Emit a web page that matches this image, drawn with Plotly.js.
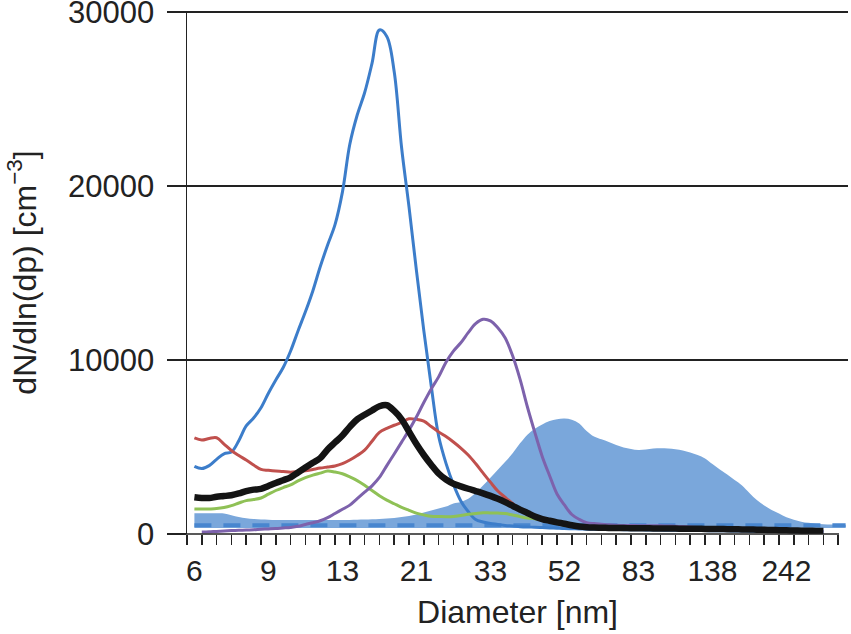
<!DOCTYPE html>
<html>
<head>
<meta charset="utf-8">
<script src="https://cdn.plot.ly/plotly-3.0.1.min.js"></script>
<style>html,body{margin:0;padding:0;background:#fff}</style>
</head>
<body>
<div id="myDiv" style="width:851px;height:634px"></div>
<script>
// size channels, sampled every half channel (channel 0 = 6 nm)
channel = [0, 0.5, 1, 1.5, 2, 2.5, 3, 3.5, 4, 4.5,
    5, 5.5, 6, 6.5, 7, 7.5, 8, 8.5, 9, 9.5,
    10, 10.5, 11, 11.5, 12, 12.5, 13, 13.5, 14, 14.5,
    15, 15.5, 16, 16.5, 17, 17.5, 18, 18.5, 19, 19.5,
    20, 20.5, 21, 21.5, 22, 22.5, 23, 23.5, 24, 24.5,
    25, 25.5, 26, 26.5, 27, 27.5, 28, 28.5, 29, 29.5,
    30, 30.5, 31, 31.5, 32, 32.5, 33, 33.5, 34, 34.5,
    35, 35.5, 36, 36.5, 37, 37.5, 38, 38.5, 39, 39.5,
    40, 40.5, 41, 41.5, 42, 42.5, 43, 43.5, 44];

tickPos = [0, 5, 10, 15, 20, 25, 30, 35, 40];
tickText = ['6', '9', '13', '21', '33', '52', '83', '138', '242'];

yTicks = [0, 10000, 20000, 30000];
yTickText = ['0', '10000', '20000', '30000'];

// dN/dln(dp) in cm^-3
blue = [3890, 3760, 3930, 4290, 4610, 4710, 5360, 6210, 6670, 7260,
    8090, 8850, 9570, 10520, 11670, 12770, 13970, 15360, 16610, 17780,
    19650, 22400, 24080, 25360, 27050, 28970, 28600, 26570, 22200, 18800,
    15150, 11690, 8520, 5630, 4060, 2850, 1900, 1290, 830, 690,
    600, 550, 490, 460, 420, 400, 390, 370, 350, 330,
    310, 300, 290, 280, 270, 265, 260, 255, 250, 245,
    240, 235, 230, 225, 220, 215, 210, 205, 200, 195,
    190, 185, 180, 175, 170, 165, 160, 155, 150, 145,
    140, 135, 130, 125, 120, 115];

red = [5520, 5400, 5490, 5530, 5170, 4800, 4510, 4250, 3970, 3710,
    3660, 3620, 3590, 3550, 3590, 3630, 3710, 3790, 3850, 3910,
    4040, 4250, 4510, 4820, 5330, 5840, 6070, 6250, 6410, 6620,
    6590, 6490, 6180, 5870, 5600, 5290, 4940, 4540, 4050, 3510,
    2980, 2470, 2100, 1750, 1450, 1270, 1050, 870, 760, 640,
    560, 480, 430, 390, 375, 365, 355, 350, 345, 340];

green = [1440, 1430, 1440, 1460, 1520, 1630, 1780, 1920, 1980, 2070,
    2290, 2500, 2670, 2820, 3050, 3240, 3380, 3500, 3620, 3560,
    3460, 3280, 3070, 2800, 2500, 2200, 1950, 1740, 1530, 1360,
    1200, 1100, 1020, 1005, 990, 1000, 1060, 1130, 1180, 1220,
    1210, 1200, 1180, 1090, 1000, 920, 880, 800, 700, 600,
    520, 460, 410, 380, 365, 355, 345, 340, 335, 330];

purple = [null, 110, 125, 150, 170, 195, 210, 230, 245, 270,
    290, 310, 345, 380, 440, 550, 650, 760, 940, 1180,
    1420, 1660, 2030, 2400, 2770, 3250, 3930, 4600, 5280, 5970,
    6720, 7560, 8340, 9030, 9870, 10510, 10990, 11570, 12090, 12340,
    12250, 11850, 11260, 10240, 8900, 7300, 5840, 4460, 3350, 2300,
    1670, 1120, 840, 655, 600, 565, 530, 505, 490, 485,
    480, 478, 475, 470, 460, 445, 425, 400, 370, 340,
    305, 285, 270, 255, 245, 235, 225, 215, 205, 195,
    185, 180, 175, 170, 165, 160];

mean = [2110, 2070, 2070, 2140, 2180, 2230, 2330, 2470, 2550, 2590,
    2760, 2930, 3090, 3260, 3540, 3820, 4090, 4360, 4860, 5260,
    5660, 6160, 6590, 6850, 7100, 7340, 7400, 7070, 6590, 5880,
    5170, 4540, 3980, 3480, 3130, 2890, 2740, 2600, 2470, 2340,
    2190, 2020, 1830, 1620, 1400, 1210, 1010, 860, 760, 670,
    590, 500, 430, 390, 370, 360, 350, 345, 340, 335,
    330, 326, 322, 318, 314, 310, 306, 302, 298, 294,
    290, 284, 278, 272, 264, 256, 248, 240, 230, 220,
    210, 200, 192, 184, 177, 170];

// shaded range: upper edge, and floor at both ends
rangeHigh = [1190, 1190, 1190, 1190, 1180, 1080, 980, 910, 860, 830,
    820, 800, 800, 800, 800, 800, 800, 800, 800, 800,
    810, 810, 820, 830, 845, 860, 890, 920, 980, 1030,
    1120, 1240, 1350, 1470, 1580, 1760, 1840, 2020, 2370, 2790,
    3240, 3690, 4150, 4640, 5210, 5710, 6050, 6300, 6490, 6600,
    6640, 6570, 6350, 5920, 5600, 5440, 5290, 5110, 4970, 4890,
    4830, 4860, 4910, 4930, 4910, 4870, 4800, 4680, 4540, 4340,
    4020, 3710, 3420, 3100, 2790, 2360, 1950, 1640, 1380, 1180,
    960, 820, 710, 640, 590, 560, 540, 530, 520];
rangeLow = [350, 350];

baseline = [510, 510];

ends = [channel[0], channel[channel.length - 1]];

function curve(y, color, width) {
    return {
        x: channel,
        y: y,
        mode: "lines",
        line: {color: color, width: width, shape: "spline", smoothing: 1},
        connectgaps: false,
        type: "scatter",
    };
}

floorTrace = {
    x: ends,
    y: rangeLow,
    mode: "lines",
    line: {width: 0},
    type: "scatter",
};

bandTrace = {
    x: channel,
    y: rangeHigh,
    mode: "lines",
    line: {width: 0, shape: "spline", smoothing: 1},
    fill: "tonexty",
    fillcolor: "rgb(122, 167, 219)",
    type: "scatter",
};

baseTrace = {
    x: ends,
    y: baseline,
    mode: "lines",
    line: {color: "rgb(72, 134, 207)", width: 4, dash: "17px,12px"},
    type: "scatter",
};

font = "Liberation Sans, Arial, Helvetica, sans-serif";

Plotly.newPlot('myDiv', {
    "data": [floorTrace, bandTrace, baseTrace,
        curve(blue, "rgb(60, 125, 202)", 3),
        curve(red, "rgb(192, 80, 77)", 3),
        curve(green, "rgb(143, 193, 86)", 3),
        curve(purple, "rgb(125, 98, 172)", 3),
        curve(mean, "rgb(20, 20, 20)", 6.5)],
    "layout": {
        width: 851,
        height: 634,
        showlegend: false,
        paper_bgcolor: "#fff",
        plot_bgcolor: "#fff",
        font: {family: font, color: "#222", size: 30},
        margin: {l: 187, r: 3, t: 11, b: 100, pad: 0},
        xaxis: {
            range: [-0.5, 44.16],
            tickmode: "array",
            tickvals: tickPos,
            ticktext: tickText,
            ticks: "",
            ticklabelstandoff: 16,
            tickfont: {size: 30},
            showgrid: false,
            zeroline: false,
            showline: false,
            minor: {
                tick0: -0.5,
                dtick: 1,
                ticks: "outside",
                ticklen: 10,
                tickwidth: 1.5,
                tickcolor: "#222",
                showgrid: false,
            },
            title: {text: "Diameter [nm]", font: {size: 32}, standoff: 14},
            automargin: false,
        },
        yaxis: {
            range: [0, 30060],
            tickmode: "array",
            tickvals: yTicks,
            ticktext: yTickText,
            ticks: "outside",
            ticklen: 19,
            tickwidth: 1.5,
            tickcolor: "#222",
            ticklabelstandoff: 6,
            ticklabeloverflow: "allow",
            tickfont: {size: 31},
            showgrid: true,
            gridcolor: "#222",
            gridwidth: 1.5,
            showline: true,
            linecolor: "#222",
            linewidth: 1.5,
            zeroline: false,
            title: {text: "dN/dln(dp) [cm<sup>\u22123</sup>]", font: {size: 32}, standoff: 22},
            automargin: false,
        },
        shapes: [{
            type: "line",
            xref: "paper", yref: "paper",
            x0: -0.015, x1: 0.9864, y0: 0, y1: 0,
            line: {color: "#222", width: 1.5},
        }],
        hovermode: false,
    },
    "config": {
        displayModeBar: false,
        staticPlot: true,
    }
});
</script>
</body>
</html>
